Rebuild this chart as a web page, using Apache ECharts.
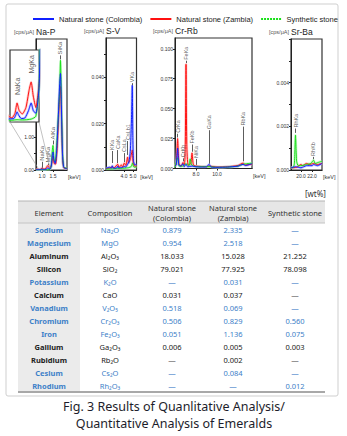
<!DOCTYPE html>
<html>
<head>
<meta charset="utf-8">
<title>Emerald XRF</title>
<script src="https://cdn.jsdelivr.net/npm/echarts@6.0.0/dist/echarts.min.js"></script>
<style>
html,body{margin:0;padding:0;background:#fff;}
#main{width:347px;height:436px;}
</style>
</head>
<body>
<div id="main"></div>
<script>
'use strict';
// spectra [keV, cps/uA] per window
var naColombia = [[0.73,0.012],[0.86,0.011],[0.94,0.012],[0.98,0.026],[1.0,0.035],[1.03,0.024],[1.08,0.012],[1.15,0.014],[1.22,0.04],[1.27,0.066],[1.31,0.04],[1.36,0.03],[1.42,0.12],[1.47,0.45],[1.5,0.55],[1.54,0.3],[1.6,0.2],[1.66,0.5],[1.74,1.6],[1.8,2.6],[1.84,2.95],[1.88,2.0],[1.93,0.5],[1.98,0.1],[2.05,0.05],[2.136,0.05]];
var naZambia = [[0.73,0.032],[0.8,0.025],[0.9,0.014],[0.96,0.03],[1.0,0.066],[1.04,0.04],[1.1,0.028],[1.17,0.05],[1.23,0.11],[1.27,0.139],[1.31,0.09],[1.36,0.05],[1.43,0.15],[1.5,0.42],[1.55,0.2],[1.62,0.18],[1.7,0.8],[1.78,2.0],[1.84,2.55],[1.89,1.5],[1.94,0.3],[2.0,0.06],[2.136,0.05]];
var naSynthetic = [[0.73,0.006],[0.9,0.006],[1.0,0.008],[1.1,0.007],[1.27,0.01],[1.36,0.02],[1.42,0.12],[1.47,0.6],[1.5,0.75],[1.54,0.35],[1.6,0.25],[1.68,0.9],[1.76,1.9],[1.8,2.4],[1.84,3.35],[1.88,2.2],[1.93,0.6],[1.98,0.1],[2.05,0.06],[2.136,0.06]];

var svColombia = [[2.0,0.0008],[2.4,0.0012],[2.6,0.0008],[2.7,0.0018],[2.8,0.0008],[3.2,0.0009],[3.3,0.0017],[3.4,0.0009],[3.8,0.0011],[4.03,0.0015],[4.2,0.0013],[4.4,0.0025],[4.55,0.0035],[4.7,0.008],[4.82,0.02],[4.92,0.0366],[4.98,0.015],[5.05,0.004],[5.2,0.0022],[5.39,0.0025]];
var svZambia = [[2.0,0.0006],[2.4,0.0008],[2.7,0.0014],[2.9,0.0009],[3.3,0.0025],[3.45,0.001],[3.7,0.0022],[3.85,0.0012],[4.03,0.003],[4.2,0.002],[4.4,0.0056],[4.5,0.003],[4.7,0.0045],[4.92,0.0086],[5.02,0.003],[5.2,0.0016],[5.39,0.0018]];
var svSynthetic = [[2.0,0.0004],[2.7,0.0005],[3.3,0.0007],[4.0,0.0008],[4.5,0.001],[4.8,0.0015],[4.95,0.003],[5.05,0.0015],[5.2,0.0012],[5.39,0.0014]];

var crColombia = [[6.0,0.002],[6.12,0.003],[6.25,0.017],[6.36,0.003],[6.55,0.002],[6.76,0.004],[6.88,0.0015],[7.05,0.0035],[7.2,0.0015],[7.62,0.002],[8.0,0.0015],[8.5,0.0012],[9.0,0.0014],[9.24,0.0035],[9.45,0.0012],[10.0,0.001],[11.0,0.0012],[12.0,0.002],[12.48,0.0035],[12.7,0.0025],[13.33,0.004]];
var crZambia = [[6.0,0.002],[6.12,0.004],[6.25,0.025],[6.38,0.004],[6.6,0.002],[6.76,0.005],[6.9,0.003],[6.98,0.02],[7.05,0.087],[7.12,0.02],[7.25,0.003],[7.5,0.004],[7.62,0.013],[7.75,0.003],[8.0,0.002],[9.0,0.0015],[9.24,0.002],[10.0,0.0012],[11.0,0.0015],[12.0,0.0025],[12.48,0.0045],[12.7,0.003],[13.33,0.0035]];
var crSynthetic = [[6.0,0.001],[6.25,0.009],[6.4,0.002],[6.76,0.002],[7.05,0.004],[7.3,0.002],[7.45,0.008],[7.58,0.003],[8.0,0.0015],[9.24,0.0015],[10.0,0.001],[11.0,0.0012],[12.0,0.002],[12.48,0.0035],[13.33,0.0045]];

var srColombia = [[18.18,0.0001],[19.0,0.00015],[20.0,0.0001],[20.5,0.00015],[21.0,0.0002],[22.0,0.0002],[22.3,0.00025],[23.0,0.0002],[23.82,0.0003]];
var srZambia = [[18.18,0.0001],[19.2,0.00012],[20.0,0.00025],[20.3,0.0002],[21.0,0.0003],[21.5,0.00025],[22.3,0.0003],[23.0,0.00025],[23.82,0.0003]];
var srSynthetic = [[18.18,0.0001],[18.6,0.00012],[18.8,0.0003],[19.0,0.0016],[19.2,0.0004],[19.5,0.0002],[20.0,0.0002],[21.0,0.00025],[21.8,0.0003],[22.27,0.00045],[22.6,0.0003],[23.2,0.00035],[23.82,0.0004]];

// peak marks: [line, keV, leader from, leader to / text start]
var naPeaks = [['NaKa',1.0,0.07,0.25],['MgKa',1.27,0.15,0.2],['AlKa',1.5,0.78,0.9],['SiKa',1.84,3.38,3.5]];
var insetPeaks = [['NaKa',1.0,0.068,0.09],['MgKa',1.27,0.142,0.165]];
var svPeaks = [['KKa',2.7,0.003,0.0082],['CaKa',3.3,0.003,0.0086],['CsLa',4.03,0.0034,0.0073],['CsLb1',4.4,0.0065,0.0125],['VKa',4.92,0.0366,0.0375]];
var crPeaks = [['CrKa',6.25,0.026,0.029],['CrKb',6.76,0.006,0.0085],['FeKa',7.05,0.088,0.09],['FeKb',7.62,0.014,0.02],['NiKa',8.0,0.003,0.008],['GaKa',9.24,0.004,0.032],['RbKa',12.48,0.006,0.035]];
var srPeaks = [['RhKa',19.0,0.0017,0.0019],['RhKb',22.27,0.0005,0.0006]];

// tick labels
var naTicksX = [1.0,1.5], naTicksY = [0,0.5,1.0], naLabelsY = [0,1.0];
var svTicksX = [4.0,5.0], svTicksY = [0,0.01,0.02,0.03,0.04,0.05], svLabelsY = [0,0.02,0.04];
var crTicksX = [8.0,10.0], crTicksY = [0,0.025,0.05,0.075,0.1], crLabelsY = [0,0.025,0.05,0.075,0.1];
var srTicksX = [20.0,22.0], srTicksY = [0,0.001,0.002,0.003,0.004,0.005,0.006], srLabelsY = [0,0.002,0.004];

// quantitative table [wt%]
var elements = ['Sodium','Magnesium','Aluminum','Silicon','Potassium','Calcium','Vanadium','Chromium','Iron','Gallium','Rubidium','Cesium','Rhodium'];
var compositions = ['Na₂O','MgO','Al₂O₃','SiO₂','K₂O','CaO','V₂O₅','Cr₂O₃','Fe₂O₃','Ga₂O₃','Rb₂O','Cs₂O','Rh₂O₃'];
var colombia = [0.879,0.954,18.033,79.021,null,0.031,0.518,0.506,0.051,0.006,null,null,null];
var zambia = [2.335,2.518,15.028,77.925,0.031,0.037,0.069,0.829,1.136,0.005,0.002,0.084,null];
var synthetic = [null,null,21.252,78.098,null,null,null,0.560,0.075,0.003,null,null,0.012];
var blueRows = [1,1,0,0,1,0,1,1,1,0,0,1,1];
var headers = ['Element','Composition','Natural stone\n(Colombia)','Natural stone\n(Zambia)','Synthetic stone'];
var captionLines = ['Fig. 3 Results of Quanlitative Analysis/','Quantitative Analysis of Emeralds'];

var FONT = 'Liberation Sans';
var TFONT = 'Noto Sans';
var stones = [
    {name:'Natural stone (Colombia)', color:'#1020ff', pale:'#9aa2ff'},
    {name:'Natural stone (Zambia)', color:'#ff1010', pale:'#ffa0a0'},
    {name:'Synthetic stone', color:'#18e018', pale:'#a6f2a6'}
];
var drawOrder = [1, 2, 0]; // red, green, then blue on top

var chart = echarts.init(document.getElementById('main'), null, {renderer:'svg'});

function xAx(grid, min, max, ticks, show){
    return {
        type:'value', gridIndex:grid, min:min, max:max, show:show !== false,
        name:'[keV]', nameLocation:'end', nameGap:1,
        nameTextStyle:{fontSize:5.5, color:'#333', fontFamily:FONT, verticalAlign:'top', padding:[4,0,0,0]},
        axisLine:{lineStyle:{color:'#222', width:1}},
        axisTick:{customValues:ticks, length:2, lineStyle:{color:'#222'}},
        axisLabel:{customValues:ticks, fontSize:5, color:'#333', margin:3, fontFamily:FONT,
            formatter:function(v){ return v.toFixed(1); }},
        splitLine:{show:false}
    };
}
function yAx(grid, max, ticks, labels, digits, show){
    return {
        type:'value', gridIndex:grid, min:0, max:max, show:show !== false,
        axisLine:{show:true, lineStyle:{color:'#222', width:1}},
        axisTick:{customValues:ticks, length:2, lineStyle:{color:'#222'}},
        axisLabel:{customValues:labels, fontSize:5, color:'#333', margin:2, fontFamily:FONT,
            formatter:function(v){ return v.toFixed(digits); }},
        splitLine:{show:false}
    };
}
function spectra(grid, sets, z){
    var out = [];
    drawOrder.forEach(function(k){
        out.push({type:'line', xAxisIndex:grid, yAxisIndex:grid, data:sets[k], symbol:'none', silent:true, z:z,
            smooth:0.2, lineStyle:{color:stones[k].pale, width:2.6, opacity:0.55}});
    });
    drawOrder.forEach(function(k){
        out.push({type:'line', name:stones[k].name, xAxisIndex:grid, yAxisIndex:grid, data:sets[k], symbol:'none', z:z+1,
            smooth:0.2, itemStyle:{color:stones[k].color}, lineStyle:{color:stones[k].color, width:1}});
    });
    return out;
}
function peakMarks(grid, peaks, fs, z){
    return {
        type:'scatter', xAxisIndex:grid, yAxisIndex:grid, symbolSize:1, z:z, silent:true,
        itemStyle:{color:'rgba(0,0,0,0)'},
        data:peaks.map(function(p){ return {name:p[0], value:[p[1], p[3]]}; }),
        label:{show:true, formatter:'{b}', rotate:90, position:'inside', align:'left', verticalAlign:'middle',
            fontSize:fs, color:'#333', fontFamily:FONT, padding:[0,0,0,1]},
        markLine:{silent:true, symbol:'none', animation:false, label:{show:false},
            lineStyle:{color:'#333', width:0.8, type:'solid'},
            data:peaks.map(function(p){ return [{coord:[p[1], p[2]]}, {coord:[p[1], p[3]]}]; })}
    };
}

var series = []
    .concat(spectra(0, [naColombia, naZambia, naSynthetic], 2), [peakMarks(0, naPeaks, 6, 5)])
    .concat(spectra(1, [naColombia, naZambia, naSynthetic], 30), [peakMarks(1, insetPeaks, 7, 33)])
    .concat(spectra(2, [svColombia, svZambia, svSynthetic], 2), [peakMarks(2, svPeaks, 5.5, 5)])
    .concat(spectra(3, [crColombia, crZambia, crSynthetic], 2), [peakMarks(3, crPeaks, 5.5, 5)])
    .concat(spectra(4, [srColombia, srZambia, srSynthetic], 2), [peakMarks(4, srPeaks, 5.5, 5)]);

var grids = [
    {left:36, top:39, width:31, height:131},
    {left:10, top:50, width:29, height:72, z:25},
    {left:106, top:38, width:30.5, height:132},
    {left:175, top:38, width:77, height:130.5},
    {left:291, top:39, width:31, height:131}
].map(function(g){
    g.show = true; g.borderColor = '#333'; g.borderWidth = 1.2; g.backgroundColor = '#fff';
    return g;
});

// panel titles
var panels = [['Na-P',36,32],['S-V',106,31],['Cr-Rb',175,31],['Sr-Ba',291,32]];
var graphics = [];
graphics.push({type:'rect', shape:{x:6, y:4, width:332, height:392, r:2}, style:{fill:'none', stroke:'#cfcfcf', lineWidth:1}, z:-10});
panels.forEach(function(p){
    graphics.push({type:'text', x:p[1]-2, y:p[2], style:{text:'[cps/μA]', fontSize:5.5, fontFamily:FONT, fill:'#555', align:'right', verticalAlign:'middle'}});
    graphics.push({type:'text', x:p[1], y:p[2], style:{text:p[0], fontSize:8.5, fontFamily:FONT, fill:'#222', align:'left', verticalAlign:'middle'}});
});
// leader lines from the inset down to the Na-Mg region
graphics.push({type:'line', shape:{x1:10, y1:122, x2:38, y2:168}, style:{stroke:'#999', lineWidth:0.6}, z:40});
graphics.push({type:'line', shape:{x1:39, y1:122, x2:50, y2:168}, style:{stroke:'#999', lineWidth:0.6}, z:40});

// table
var colX = [49,110,172,233,295];
var tLeft = 18, tRight = 325, tTop = 201, tHead = 223, tBottom = 392;
graphics.push({type:'text', x:326, y:193, style:{text:'[wt%]', fontSize:8, fontFamily:TFONT, fill:'#333', align:'right', verticalAlign:'middle'}});
graphics.push({type:'rect', shape:{x:tLeft, y:tTop, width:tRight-tLeft, height:tHead-tTop}, style:{fill:'#e6e6e6'}});
graphics.push({type:'rect', shape:{x:tLeft, y:tHead, width:62, height:tBottom-tHead}, style:{fill:'#ebebeb'}});
graphics.push({type:'line', shape:{x1:tLeft, y1:tTop, x2:tRight, y2:tTop}, style:{stroke:'#b4b4b4', lineWidth:1}});
graphics.push({type:'line', shape:{x1:tLeft, y1:tHead, x2:tRight, y2:tHead}, style:{stroke:'#c4c4c4', lineWidth:1}});
graphics.push({type:'line', shape:{x1:tLeft, y1:tBottom, x2:tRight, y2:tBottom}, style:{stroke:'#a8a8a8', lineWidth:2}});
headers.forEach(function(h, c){
    graphics.push({type:'text', x:colX[c], y:212.5, style:{text:h, fontSize:7.5, lineHeight:10, fontFamily:TFONT, fill:'#333', align:'center', verticalAlign:'middle'}});
});
function fmt(v){ return v === null ? '—' : v.toFixed(3); }
elements.forEach(function(el, i){
    var y = 229.8 + 13.02 * i;
    var col = blueRows[i] ? '#3d80c8' : '#222';
    var cells = [el, compositions[i], fmt(colombia[i]), fmt(zambia[i]), fmt(synthetic[i])];
    cells.forEach(function(t, c){
        graphics.push({type:'text', x:colX[c], y:y, style:{text:t, fontSize:7.5, fontFamily:TFONT, fontWeight:c === 0 ? 'bold' : 'normal',
            fill:(t === '—' && !blueRows[i]) ? '#555' : col, align:'center', verticalAlign:'middle'}});
    });
});

// caption, squeezed to the printed width
var ctx = document.createElement('canvas').getContext('2d');
ctx.font = '13.5px "Noto Sans"';
var capScale = 222 / ctx.measureText(captionLines[0]).width;
captionLines.forEach(function(t, i){
    graphics.push({type:'text', x:174, y:406 + 16.5 * i, scaleX:capScale, style:{text:t, fontSize:13.5, fontFamily:TFONT, fill:'#1d1d2b', align:'center', verticalAlign:'middle'}});
});

var option = {
    backgroundColor:'#fff',
    animation:false,
    legend:{
        left:28, top:10, itemWidth:21, itemHeight:2, itemGap:8, selectedMode:false,
        textStyle:{fontSize:7.5, fontFamily:FONT, color:'#222'},
        data:[
            {name:stones[0].name, icon:'rect'},
            {name:stones[1].name, icon:'rect'},
            {name:stones[2].name, icon:'path://M0,0h2v2h-2z M3,0h2v2h-2z M6,0h2v2h-2z M9,0h2v2h-2z M12,0h2v2h-2z M15,0h2v2h-2z M18,0h2v2h-2z'}
        ]
    },
    grid:grids,
    xAxis:[
        xAx(0, 0.727, 2.136, naTicksX),
        xAx(1, 0.865, 1.42, [], false),
        xAx(2, 2.0, 5.39, svTicksX),
        xAx(3, 6.0, 13.33, crTicksX),
        xAx(4, 18.18, 23.82, srTicksX)
    ],
    yAxis:[
        yAx(0, 4.0, naTicksY, naLabelsY, 2),
        yAx(1, 0.25, [], [], 2, false),
        yAx(2, 0.057, svTicksY, svLabelsY, 3),
        yAx(3, 0.109, crTicksY, crLabelsY, 3),
        yAx(4, 0.006, srTicksY, srLabelsY, 3)
    ],
    graphic:{elements:graphics},
    series:series
};
chart.setOption(option);
</script>
</body>
</html>
